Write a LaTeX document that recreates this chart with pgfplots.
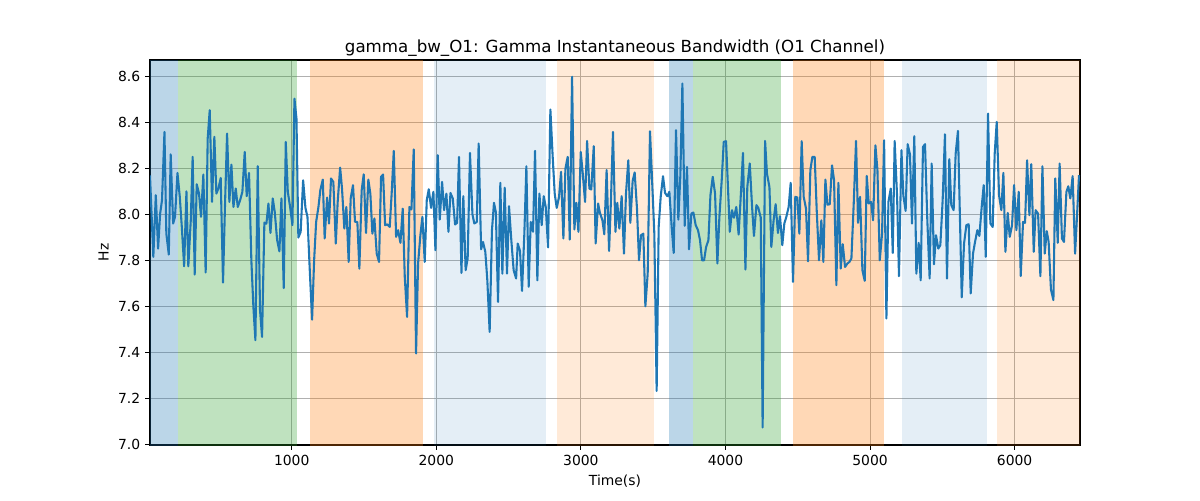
\documentclass[border=0pt]{standalone}
\usepackage{fontspec}
\setmainfont{DejaVu Sans}
\usepackage{pgfplots}
\pgfplotsset{compat=1.18}
\definecolor{tabblue}{RGB}{31,119,180}
\definecolor{taborange}{RGB}{255,127,14}
\definecolor{tabgreen}{RGB}{44,160,44}
\definecolor{gridgray}{RGB}{176,176,176}
\pgfplotstableread{
x y
20 8.17
43 7.816
60 8.084
76 7.852
90 8.004
103 8.062
120 8.359
133 7.917
150 7.826
163 8.262
180 7.961
193 7.99
210 8.181
226 8.077
240 7.946
256 7.775
272 8.101
285 7.775
302 7.975
315 8.251
329 7.739
343 8.132
359 8.091
373 7.99
389 8.174
405 7.748
419 8.33
433 8.454
449 8.055
465 8.338
479 8.091
493 8.113
509 8.159
525 7.704
539 8.048
553 8.352
569 8.055
583 8.217
597 8.033
613 8.113
627 8.033
643 8.062
659 8.099
675 8.272
689 8.08
705 8.181
721 7.801
735 7.599
749 7.454
765 8.21
781 7.584
795 7.468
811 7.965
825 7.96
839 8.048
853 7.92
869 8.07
883 8.01
899 7.89
915 7.84
929 8.07
945 7.68
959 8.316
973 8.099
989 8.033
1005 7.954
1019 8.504
1033 8.417
1046 7.9
1062 7.925
1079 8.149
1095 8.029
1109 7.99
1125 7.758
1141 7.543
1155 7.8
1169 7.968
1185 8.033
1198 8.106
1215 8.152
1228 7.896
1245 8.074
1258 7.961
1272 8.157
1288 8.142
1305 7.874
1318 8.055
1335 8.204
1348 8.113
1364 7.939
1378 8.033
1394 7.794
1408 8.07
1424 8.128
1438 7.968
1454 7.968
1468 7.765
1484 8.106
1498 8.175
1514 7.92
1530 8.152
1544 8.091
1558 7.917
1572 7.983
1588 7.83
1604 7.794
1618 8.164
1632 8.174
1646 7.954
1662 7.957
1678 7.946
1692 8.099
1706 8.277
1722 7.903
1736 7.932
1752 7.877
1768 8.026
1782 7.729
1798 7.555
1814 8.033
1828 8.022
1844 8.283
1860 7.396
1874 7.787
1890 7.91
1904 7.99
1920 7.794
1934 8.062
1948 8.11
1964 8.029
1980 8.099
1994 7.845
2010 8.258
2024 7.978
2040 8.142
2054 8.019
2070 8.091
2084 7.925
2098 8.094
2114 8.07
2130 7.957
2144 7.964
2157 8.251
2174 7.746
2187 8.08
2203 7.758
2217 7.809
2233 8.268
2250 8.001
2263 7.961
2280 7.968
2293 8.309
2310 7.849
2323 7.881
2339 7.838
2353 7.714
2369 7.49
2385 7.932
2399 8.051
2412 8.01
2427 7.62
2443 8.138
2457 7.743
2473 8.117
2489 7.743
2503 8.036
2519 7.888
2535 7.758
2552 7.722
2563 7.874
2579 7.842
2593 7.668
2609 7.917
2623 8.21
2639 7.686
2653 7.968
2669 7.925
2683 8.277
2699 7.714
2713 8.091
2729 7.954
2743 8.08
2757 8.033
2773 7.857
2789 8.457
2805 8.251
2819 8.091
2833 8.029
2849 8.077
2863 8.186
2879 7.896
2893 8.2
2909 8.251
2923 7.891
2939 8.599
2955 7.935
2969 8.051
2983 7.925
2999 8.272
3013 8.178
3029 8.055
3043 8.32
3059 8.113
3072 8.109
3089 8.297
3102 7.874
3119 8.048
3132 8.007
3149 7.975
3162 7.914
3178 8.193
3195 7.842
3208 8.062
3222 8.359
3239 7.925
3252 8.051
3266 7.939
3282 8.08
3298 7.83
3312 8.091
3328 8.236
3342 7.964
3358 8.146
3372 8.183
3388 8.026
3402 7.801
3416 7.91
3432 7.917
3446 7.601
3462 7.743
3478 8.362
3492 8.157
3508 7.917
3524 7.233
3538 7.946
3552 8.077
3568 8.167
3582 8.094
3598 8.08
3612 8.099
3628 7.946
3642 7.833
3658 8.367
3674 7.978
3688 8.171
3702 8.57
3718 7.951
3734 8.207
3748 7.849
3764 8.004
3778 8.009
3794 7.954
3810 7.932
3824 7.888
3838 7.801
3852 7.801
3866 7.859
3882 7.888
3896 8.084
3912 8.164
3928 8.091
3944 7.787
3958 7.99
3974 8.149
3988 8.316
4004 8.319
4030 7.925
4045 8.019
4059 7.986
4075 8.033
4091 7.913
4108 8.106
4121 8.268
4138 7.761
4151 8.12
4168 8.222
4184 8.033
4197 7.907
4214 8.041
4227 8.029
4244 7.987
4257 7.074
4274 8.32
4287 8.178
4304 8.12
4317 7.859
4333 7.975
4347 8.045
4363 7.92
4377 7.993
4393 7.867
4407 7.961
4421 7.99
4437 8.033
4451 8.138
4467 7.707
4483 8.077
4497 8.074
4511 7.917
4527 8.319
4541 8.077
4557 8.026
4571 7.797
4587 8.193
4601 8.251
4617 8.251
4631 8.019
4647 7.801
4663 7.975
4677 7.794
4691 8.152
4705 8.043
4721 8.045
4737 8.214
4751 8.149
4767 7.693
4781 8.138
4797 7.765
4811 7.871
4827 7.772
4843 7.787
4857 7.794
4871 7.809
4887 8.048
4903 8.32
4917 7.964
4931 8.077
4947 7.758
4963 7.712
4977 8.168
4991 8.048
5007 8.055
5021 7.975
5037 8.301
5051 8.193
5067 7.801
5083 7.917
5097 8.323
5113 7.548
5127 8.055
5143 8.113
5157 7.833
5170 8.32
5187 8.077
5200 7.732
5217 8.28
5230 8.084
5246 8.016
5260 8.306
5276 8.261
5290 7.961
5306 8.341
5320 7.743
5336 7.877
5350 7.714
5366 8.294
5380 8.306
5396 7.975
5412 7.722
5426 8.222
5442 7.784
5456 7.91
5472 7.852
5486 7.867
5502 8.062
5518 8.349
5532 7.722
5548 8.241
5562 8.041
5578 8.019
5592 8.265
5608 8.364
5634 7.64
5650 7.874
5666 7.954
5682 7.958
5696 7.657
5712 7.83
5726 7.881
5742 7.932
5756 7.907
5772 8.033
5786 8.128
5800 7.816
5816 8.439
5832 7.961
5848 7.946
5862 8.265
5876 8.403
5892 8.084
5908 8.019
5922 8.181
5936 7.838
5952 8.007
5966 7.903
5982 7.954
5996 8.128
6012 7.932
6028 8.099
6042 7.733
6058 7.968
6072 7.964
6086 8.236
6102 7.997
6115 8.219
6132 7.838
6145 8.019
6162 8.004
6178 7.732
6192 8.21
6208 7.83
6222 7.928
6235 7.881
6251 7.674
6268 7.628
6281 8.157
6298 7.877
6311 8.222
6327 7.896
6341 7.881
6358 8.099
6371 8.123
6385 8.07
6401 8.167
6418 7.83
6431 7.99
6445 8.171
}\datatable
\begin{document}
\begin{tikzpicture}
\path[use as bounding box] (0,0) rectangle (864pt,360pt);
\begin{axis}[
  at={(108pt,39.6pt)}, anchor=south west,
  width=669.6pt, height=277.2pt, scale only axis,
  xmin=20, xmax=6452, ymin=6.998, ymax=8.672,
  xtick={1000,2000,3000,4000,5000,6000},
  ytick={7.0,7.2,7.4,7.6,7.8,8.0,8.2,8.4,8.6},
  grid=major,
  grid style={gridgray, line width=0.8pt},
  axis line style={line width=0.8pt},
  tick style={black, line width=0.8pt},
  tick align=outside, major tick length=3.5pt,
  xtick pos=bottom, ytick pos=left,
  ticklabel style={font=\fontsize{10}{12}\selectfont},
  /pgf/number format/assume math mode=true,
  yticklabel style={/pgf/number format/fixed, /pgf/number format/fixed zerofill, /pgf/number format/precision=1},
  xticklabel style={/pgf/number format/1000 sep={}},
  title={gamma\_bw\_O1: Gamma Instantaneous Bandwidth (O1 Channel)},
  title style={font=\fontsize{12}{14}\selectfont, at={(0.5,1)}, anchor=south, inner sep=0pt, yshift=-3.4pt},
  xlabel={Time(s)}, ylabel={Hz},
  label style={font=\fontsize{10}{12}\selectfont},
]
\addplot[draw=none, fill=tabblue, fill opacity=0.3, forget plot] coordinates {(20,6.9) (216,6.9) (216,8.8) (20,8.8)} -- cycle;
\addplot[draw=none, fill=tabgreen, fill opacity=0.3, forget plot] coordinates {(216,6.9) (1037,6.9) (1037,8.8) (216,8.8)} -- cycle;
\addplot[draw=none, fill=taborange, fill opacity=0.3, forget plot] coordinates {(1129,6.9) (1909,6.9) (1909,8.8) (1129,8.8)} -- cycle;
\addplot[draw=none, fill=tabblue, fill opacity=0.12, forget plot] coordinates {(1987,6.9) (2759,6.9) (2759,8.8) (1987,8.8)} -- cycle;
\addplot[draw=none, fill=taborange, fill opacity=0.16, forget plot] coordinates {(2837,6.9) (3506,6.9) (3506,8.8) (2837,8.8)} -- cycle;
\addplot[draw=none, fill=tabblue, fill opacity=0.3, forget plot] coordinates {(3607,6.9) (3776,6.9) (3776,8.8) (3607,8.8)} -- cycle;
\addplot[draw=none, fill=tabgreen, fill opacity=0.3, forget plot] coordinates {(3776,6.9) (4387,6.9) (4387,8.8) (3776,8.8)} -- cycle;
\addplot[draw=none, fill=taborange, fill opacity=0.3, forget plot] coordinates {(4465,6.9) (5097,6.9) (5097,8.8) (4465,8.8)} -- cycle;
\addplot[draw=none, fill=tabblue, fill opacity=0.12, forget plot] coordinates {(5223,6.9) (5809,6.9) (5809,8.8) (5223,8.8)} -- cycle;
\addplot[draw=none, fill=taborange, fill opacity=0.16, forget plot] coordinates {(5880,6.9) (6460,6.9) (6460,8.8) (5880,8.8)} -- cycle;
\addplot[tabblue, line width=1.5pt, line join=round] table[x=x, y=y] {\datatable};
\end{axis}
\end{tikzpicture}
\end{document}
